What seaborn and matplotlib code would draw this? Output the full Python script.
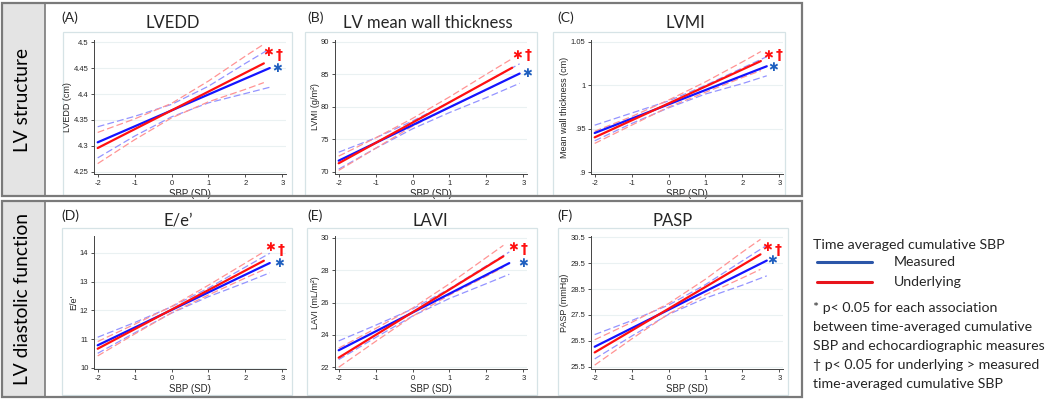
import matplotlib
matplotlib.use("Agg")
import pandas as pd
import matplotlib.pyplot as plt
from matplotlib.patches import Rectangle
from matplotlib.lines import Line2D
import seaborn as sns

# panel text
letters = ["(A)", "(B)", "(C)", "(D)", "(E)", "(F)"]
titles = ["LVEDD", "LV mean wall thickness", "LVMI", "E/e\u2019", "LAVI", "PASP"]
ylabels = ["LVEDD (cm)", "LVMI (g/m\u00b2)", "Mean wall thickness (cm)",
           "E/e'", "LAVI (mL/m\u00b2)", "PASP (mmHg)"]
yticks = [[4.25, 4.3, 4.35, 4.4, 4.45, 4.5],
          [70, 75, 80, 85, 90],
          [0.9, 0.95, 1.0, 1.05],
          [10, 11, 12, 13, 14],
          [22, 24, 26, 28, 30],
          [25.5, 26.5, 27.5, 28.5, 29.5, 30.5]]
ytick_labels = [["4.25", "4.3", "4.35", "4.4", "4.45", "4.5"],
                ["70", "75", "80", "85", "90"],
                [".9", ".95", "1", "1.05"],
                ["10", "11", "12", "13", "14"],
                ["22", "24", "26", "28", "30"],
                ["25.5", "26.5", "27.5", "28.5", "29.5", "30.5"]]
ylims = [(4.246, 4.504), (69.65, 90.26), (0.8977, 1.0523),
         (9.965, 14.59), (21.88, 30.12), (25.41, 30.55)]
xticks = [-2, -1, 0, 1, 2, 3]

# fitted lines: value at SBP = -2 and at the last SBP value
meas_x_end = [2.66, 2.9, 2.66, 2.66, 2.62, 2.66]
meas_start = [4.307, 71.7, 0.945, 10.79, 23.04, 26.27]
meas_end = [4.450, 85.1, 1.022, 13.65, 28.44, 29.60]
und_x_end = [2.5, 2.7, 2.5, 2.5, 2.46, 2.49]
und_start = [4.296, 71.3, 0.940, 10.67, 22.58, 26.05]
und_end = [4.459, 86.0, 1.028, 13.73, 28.86, 29.84]

# 95% CI bounds at SBP = -2, -1, 0, 1, 2, end
ci_x = [-2, -1, 0, 1, 2]
meas_hi = [[4.337, 4.357, 4.380, 4.415, 4.459, 4.487],
           [73.0, 75.2, 77.8, 80.7, 83.8, 86.6],
           [0.954, 0.968, 0.982, 1.000, 1.020, 1.033],
           [11.07, 11.58, 12.13, 12.78, 13.51, 13.99],
           [23.62, 24.59, 25.60, 26.85, 28.27, 29.13],
           [26.74, 27.28, 27.88, 28.67, 29.59, 30.19]]
meas_lo = [[4.277, 4.319, 4.356, 4.383, 4.401, 4.413],
           [70.4, 73.6, 76.6, 79.1, 81.4, 83.6],
           [0.936, 0.956, 0.974, 0.990, 1.002, 1.011],
           [10.51, 11.22, 11.91, 12.48, 12.97, 13.31],
           [22.46, 23.83, 25.16, 26.25, 27.17, 27.75],
           [25.80, 26.68, 27.52, 28.15, 28.65, 29.01]]
und_hi = [[4.326, 4.352, 4.382, 4.425, 4.473, 4.496],
          [72.4, 75.2, 78.2, 81.5, 85.0, 87.4],
          [0.947, 0.964, 0.983, 1.004, 1.027, 1.039],
          [10.92, 11.52, 12.14, 12.88, 13.65, 14.04],
          [23.17, 24.39, 25.65, 27.16, 28.79, 29.54],
          [26.54, 27.21, 27.94, 28.88, 29.93, 30.42]]
und_lo = [[4.266, 4.312, 4.354, 4.385, 4.409, 4.422],
          [70.2, 73.6, 77.0, 79.9, 82.6, 84.6],
          [0.933, 0.954, 0.975, 0.992, 1.009, 1.017],
          [10.42, 11.18, 11.92, 12.54, 13.13, 13.42],
          [21.99, 23.59, 25.15, 26.46, 27.63, 28.18],
          [25.56, 26.57, 27.54, 28.28, 28.93, 29.26]]

row_labels = ["LV structure", "LV diastolic function"]
legend_title = "Time averaged cumulative SBP"
series_names = ["Measured", "Underlying"]
notes = ["* p< 0.05 for each association",
         "between time-averaged cumulative",
         "SBP and echocardiographic measures",
         "\u2020 p< 0.05 for underlying > measured",
         "time-averaged cumulative SBP"]

# significance marks, axes fraction (red *, red dagger, blue *)
mark_pos = [[(0.906, 0.903), (0.964, 0.888), (0.953, 0.785)],
            [(0.948, 0.888), (1.006, 0.888), (1.0, 0.752)],
            [(0.922, 0.888), (0.980, 0.888), (0.948, 0.795)],
            [(0.917, 0.910), (0.975, 0.895), (0.964, 0.795)],
            [(0.927, 0.910), (0.985, 0.902), (0.979, 0.795)],
            [(0.917, 0.910), (0.975, 0.895), (0.943, 0.815)]]

BLUE = "#1414ff"
RED = "#ff1010"
BLUE_CI = "#9494ff"
RED_CI = "#ff9494"
MARK_BLUE = "#1f5fbf"

sns.set_theme(style="white")
plt.rcParams['font.family'] = ['Lato', 'DejaVu Sans']

W, H = 1050, 401
fig = plt.figure(figsize=(W / 100, H / 100), dpi=100)


def box(x0, y0, x1, y1, **kw):
    # pixel coords, origin top-left
    fig.add_artist(Rectangle((x0 / W, 1 - y1 / H), (x1 - x0) / W, (y1 - y0) / H,
                             transform=fig.transFigure, **kw))


def ftext(x, y, s, **kw):
    fig.text(x / W, 1 - y / H, s, **kw)


# outer frames with row labels
for (y0, y1), lab in zip([(3, 196), (201, 397)], row_labels):
    box(2, y0, 45, y1, facecolor="#e4e4e4", edgecolor="none", zorder=-2)
    box(2, y0, 802, y1, facecolor="none", edgecolor="#7a7a7a", lw=1.6, zorder=5)
    fig.add_artist(Line2D([45 / W, 45 / W], [1 - y0 / H, 1 - y1 / H],
                          transform=fig.transFigure, color="#7a7a7a", lw=1.2))
    ftext(23, (y0 + y1) / 2, lab, rotation=90, ha="center", va="center",
          fontsize=13.8, color="black")

# light graph-region boxes around each panel
panel_boxes = [(63, 32, 292, 195), (305, 32, 537, 195), (553, 32, 785, 195),
               (62, 228, 292, 395), (307, 228, 537, 395), (558, 228, 788, 395)]
for b in panel_boxes:
    box(*b, facecolor="white", edgecolor="#d6e3e6", lw=0.9, zorder=-1)

col_left = [94, 335, 591]
row_top = [40, 236]
row_h = [134, 133]
ax_w = 192
title_x = [173, 428, 685, 178, 430, 673]
letter_x = [61, 307, 557, 61, 307, 557]

for i in range(6):
    r, c = divmod(i, 3)
    t, h = row_top[r], row_h[r]
    ax = fig.add_axes([col_left[c] / W, 1 - (t + h) / H, ax_w / W, h / H])
    ax.set_zorder(2)
    ax.set_facecolor("none")

    xm = ci_x + [meas_x_end[i]]
    xu = ci_x + [und_x_end[i]]
    dash = (0, (5.5, 2.5))
    sns.lineplot(x=xm, y=meas_hi[i], ax=ax, color=BLUE_CI, lw=0.9, linestyle=dash)
    sns.lineplot(x=xm, y=meas_lo[i], ax=ax, color=BLUE_CI, lw=0.9, linestyle=dash)
    sns.lineplot(x=xu, y=und_hi[i], ax=ax, color=RED_CI, lw=0.9, linestyle=dash)
    sns.lineplot(x=xu, y=und_lo[i], ax=ax, color=RED_CI, lw=0.9, linestyle=dash)
    sns.lineplot(x=[-2, meas_x_end[i]], y=[meas_start[i], meas_end[i]], ax=ax,
                 color=BLUE, lw=1.6)
    sns.lineplot(x=[-2, und_x_end[i]], y=[und_start[i], und_end[i]], ax=ax,
                 color=RED, lw=1.6)

    ax.set_xlim(-2.1, 3.1)
    ax.set_ylim(*ylims[i])
    ax.set_xticks(xticks)
    ax.set_xticklabels([str(v) for v in xticks], fontfamily="Liberation Sans")
    ax.set_yticks(yticks[i])
    ax.set_yticklabels(ytick_labels[i], fontfamily="Liberation Sans")
    ax.tick_params(axis="both", labelsize=5.5, length=2.5, width=0.6,
                   color="#333333", pad=1.5, bottom=True, left=True)
    ax.yaxis.grid(True, color="#eaf1f2", lw=0.8)
    ax.xaxis.grid(False)
    for s in ["top", "right"]:
        ax.spines[s].set_visible(False)
    for s in ["left", "bottom"]:
        ax.spines[s].set_color("#444444")
        ax.spines[s].set_linewidth(0.7)
    ax.set_xlabel("SBP (SD)", fontsize=7, fontfamily="Liberation Sans", labelpad=1.5)
    ax.set_ylabel(ylabels[i], fontsize=6.5, fontfamily="Liberation Sans", labelpad=1)

    (rsx, rsy), (dgx, dgy), (bsx, bsy) = mark_pos[i]
    ax.text(rsx, rsy, "\u2731", transform=ax.transAxes, color=RED, fontsize=8.5,
            ha="center", va="center", clip_on=False, fontfamily="DejaVu Sans")
    ax.text(dgx, dgy, "\u2020", transform=ax.transAxes, color=RED, fontsize=10,
            ha="center", va="center", fontweight="bold", clip_on=False,
            fontfamily="DejaVu Sans")
    ax.text(bsx, bsy, "\u2731", transform=ax.transAxes, color=MARK_BLUE, fontsize=8.5,
            ha="center", va="center", clip_on=False, fontfamily="DejaVu Sans")

    base_y = 0 if r == 0 else 198
    ftext(letter_x[i], base_y + 18, letters[i], fontsize=10, ha="left", va="center")
    ftext(title_x[i], base_y + 23, titles[i], fontsize=12, ha="center", va="center")

# legend / notes on the right
ftext(813, 245, legend_title, fontsize=10.2, ha="left", va="center")
for (yy, col), name in zip([(262, "#2c56a8"), (282, "#e8141c")], series_names):
    fig.add_artist(Line2D([817 / W, 872 / W], [1 - yy / H, 1 - yy / H],
                          transform=fig.transFigure, color=col, lw=2.2))
    ftext(894, yy, name, fontsize=10.2, ha="left", va="center")
for k, line in enumerate(notes):
    ftext(813, 308 + k * 19, line, fontsize=10.2, ha="left", va="center")

fig.savefig("out.png", dpi=100, facecolor="white")
